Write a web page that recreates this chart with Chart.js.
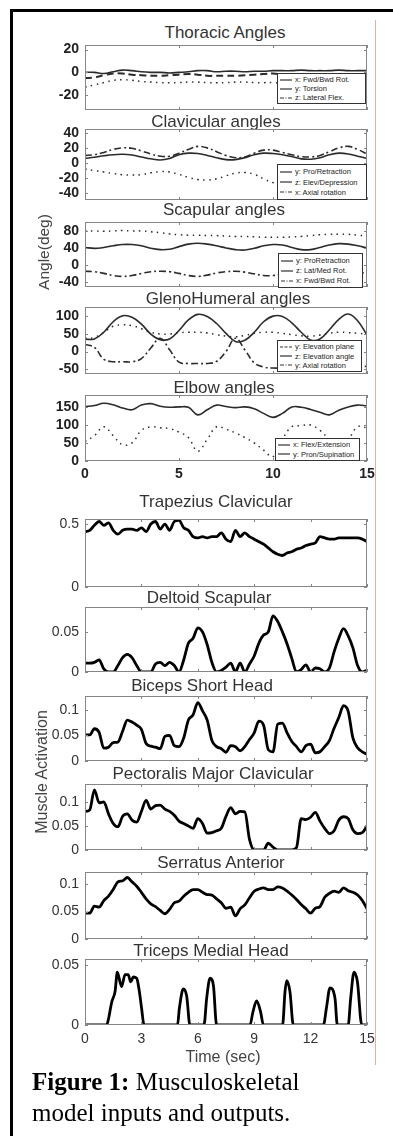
<!DOCTYPE html>
<html>
<head>
<meta charset="utf-8">
<script src="https://cdn.jsdelivr.net/npm/chart.js@4.4.0/dist/chart.umd.min.js"></script>
<style>
  body { margin: 0; background: #fff; }
  #page { position: relative; width: 393px; height: 1136px; overflow: hidden; font-family: "Liberation Sans", Arial, sans-serif; }
  .frame { position: absolute; left: 10px; top: 9px; width: 400px; height: 1140px; border-left: 3px solid #000; border-top: 3px solid #000; }
  .guide { position: absolute; left: 375px; top: 20px; width: 1px; height: 1045px; background: #f3a6a6; }
  .ttl { position: absolute; width: 300px; text-align: center; font-size: 17px; line-height: 20px; color: #333; white-space: nowrap; }
  .ylab { position: absolute; width: 200px; text-align: center; line-height: 20px; color: #444; white-space: nowrap; transform: rotate(-90deg); }
  .xlab { position: absolute; width: 200px; text-align: center; line-height: 20px; color: #444; font-size: 16px; }
  .leg { position: absolute; background: #fff; border: 1px solid #333; box-sizing: border-box; font-size: 7.5px; color: #222;
         display: flex; flex-direction: column; justify-content: space-evenly; padding-left: 2px; }
  .leg div { display: flex; align-items: center; white-space: nowrap; line-height: 7px; }
  .leg svg { margin-right: 3px; flex: none; }
  canvas { position: absolute; left: 0; }
  .cap { position: absolute; left: 32px; top: 1066px; font-family: "Liberation Serif", "Times New Roman", serif; font-size: 25px; line-height: 31px; color: #000; }
</style>
</head>
<body>
<div id="page">
  <div class="frame"></div>
  <div class="guide"></div>
</div>
<script>
// time bases (sec)
const T_ANG = [0,0.5,1,1.5,2,2.5,3,3.5,4,4.5,5,5.5,6,6.5,7,7.5,8,8.5,9,9.5,10,10.5,11,11.5,12,12.5,13,13.5,14,14.5,15];
const T_EMG = [0,0.25,0.5,0.75,1,1.25,1.5,1.75,2,2.25,2.5,2.75,3,3.25,3.5,3.75,4,4.25,4.5,4.75,5,5.25,5.5,5.75,6,6.25,6.5,6.75,7,
  7.25,7.5,7.75,8,8.25,8.5,8.75,9,9.25,9.5,9.75,10,10.25,10.5,10.75,11,11.25,11.5,11.75,12,12.25,12.5,12.75,13,13.25,13.5,13.75,14,
  14.25,14.5,14.75,15];

// joint angles (deg)
const THOR_X = [0,0,-1,0.5,2,1.5,0.5,0,0,-0.5,0,0.5,1.5,1.5,0.5,1,1,0.5,1,1,1.5,1.5,1.5,2,1.5,1.5,1.5,2,1.5,1.5,1.5];
const THOR_Y = [-5,-4.5,-2.5,-1,-1,-2,-2.5,-3,-3,-2.5,-2,-1.5,-2,-3,-3,-3,-3,-2.5,-2,-1.5,-1,-2,-3.5,-5,-5,-4,-3,-3,-3,-3,-3];
const THOR_Z = [-13,-11,-9,-7,-6.5,-7,-8,-8.5,-9,-9,-9,-8.5,-8.5,-9,-9,-9,-8.5,-8.5,-9,-9,-9,-9.5,-10,-10,-10,-10,-10,-10,-10,-10,-10];

const CLAV_Y = [6,7.5,9.5,11,11.5,10.5,8,5.5,4,6,11,13,12.5,10,7,4.5,4.5,7,11,13,12.5,11,8.5,5.5,5,7,11,13,12,9,6];
const CLAV_Z = [10,11,14,18,20,19.5,16,12,9,9,13,18,22,20,15,10,7,8,13,17,17,14,11,8.5,8,10,15,20,22,18,12];
const CLAV_X = [-8,-10,-12,-14,-15.5,-16,-15.5,-13,-11.5,-12,-15,-19,-22,-22.5,-21,-17,-13.5,-12.5,-15,-21,-26,-29,-31,-32,-32,-31,-30,-30,-31,-32,-32];

const SCAP_X = [80,80,79,80,81,80,80,78,76,73,71,70,70,69,69,68,67,67,66,65,65,65,66,67,69,71,72,72,72,70,68];
const SCAP_Y = [41,39,41,45,48,48,45,39,36,37,43,49,51,49,45,40,36,35,39,45,48,47,41,36,36,41,47,50,49,45,40];
const SCAP_Z = [-15,-16,-20,-25,-27,-25,-20,-16,-15,-16,-20,-25,-27,-24,-19,-16,-15,-17,-21,-25,-25,-22,-18,-16,-16,-19,-23,-26,-25,-21,-17];

const GH_ELEV = [35,36,55,85,102,98,78,50,34,36,60,90,106,100,80,52,29,32,55,85,101,100,82,55,33,36,62,92,107,88,47];
const GH_PLANE = [38,40,55,72,76,74,65,55,50,50,54,55,55,53,48,44,42,46,52,55,55,52,48,45,44,47,52,55,54,52,50];
const GH_AXIAL = [20,12,-22,-29,-29,-29,-20,10,38,5,-30,-34,-34,-34,-28,0,38,5,-32,-44,-47,-47,-45,-20,30,5,-30,-42,-44,-44,-42];

const ELB_FLEX = [151,154,160,156,147,142,155,159,152,149,150,149,128,142,155,151,148,150,145,132,121,132,150,149,143,135,128,141,150,155,153];
const ELB_PRON = [54,70,95,70,45,50,85,95,92,90,80,65,27,60,95,88,78,65,50,30,12,60,95,98,100,85,60,40,60,95,92];

// muscle activations
const TRAP = [0.44,0.45,0.49,0.52,0.49, 0.51,0.45,0.42,0.45, 0.46,0.46,0.45,0.47, 0.44,0.50,0.52,0.46, 0.50,0.45,0.52,0.53,
  0.47,0.45,0.40,0.39, 0.40,0.39,0.40,0.40, 0.43,0.38,0.36,0.45, 0.40,0.43,0.40,0.38, 0.36,0.34,0.31,0.28,
  0.26,0.25,0.27,0.28, 0.30,0.31,0.33,0.34, 0.35,0.40,0.39,0.38, 0.38,0.39,0.39,0.39, 0.39,0.39,0.38,0.36];
const DELT = [0.011,0.011,0.012,0.015,0.004, 0,0,0.008,0.018, 0.022,0.018,0.008,0, 0,0,0.010,0.012, 0.008,0.012,0.008,0,
  0.015,0.036,0.042,0.055, 0.050,0.034,0.012,0, 0.002,0.006,0.011,0, 0.011,0,0.010,0.020, 0.036,0.046,0.050,0.070,
  0.063,0.050,0.035,0.017, 0,0.003,0.009,0, 0.005,0.004,0,0.005, 0.025,0.042,0.054,0.045, 0.030,0.008,0,0.002];
const BIC = [0.051,0.051,0.063,0.056,0.025, 0.027,0.036,0.037,0.058, 0.080,0.076,0.070,0.062, 0.034,0.029,0.027,0.024,
  0.048,0.050,0.030,0.028, 0.045,0.080,0.090,0.114, 0.098,0.080,0.040,0.028, 0.024,0.017,0.030,0.028, 0.020,0.028,0.042,0.055,
  0.078,0.070,0.022,0.018, 0.072,0.074,0.055,0.038, 0.028,0.018,0.030,0.033, 0.016,0.018,0.028,0.040, 0.064,0.085,0.108,0.097,
  0.045,0.026,0.018,0.013];
const PECT = [0.080,0.083,0.125,0.098,0.100, 0.075,0.055,0.048,0.070, 0.075,0.062,0.058,0.080, 0.103,0.085,0.092,0.093,
  0.085,0.080,0.072,0.060, 0.055,0.050,0.045,0.065, 0.055,0.035,0.036,0.040, 0.045,0.070,0.088,0.075, 0.080,0.079,0.022,0,
  0,0,0.014,0.006, 0,0,0,0, 0.005,0.065,0.063,0.068, 0.078,0.060,0.045,0.034, 0.040,0.062,0.069,0.065, 0.042,0.034,0.036,0.050];
const SERR = [0.047,0.047,0.060,0.058,0.070, 0.078,0.090,0.104,0.106, 0.112,0.104,0.096,0.085, 0.073,0.064,0.059,0.052,
  0.046,0.054,0.066,0.069, 0.078,0.085,0.090,0.090, 0.085,0.081,0.080,0.073, 0.066,0.056,0.058,0.042, 0.055,0.062,0.075,0.087,
  0.091,0.093,0.090,0.090, 0.095,0.093,0.087,0.080, 0.072,0.063,0.055,0.047, 0.056,0.059,0.076,0.083, 0.087,0.085,0.093,0.088,
  0.085,0.080,0.070,0.055];
const TRI_T = [0,1.15,1.25,1.42,1.6,1.72,1.86,1.95,2.13,2.3,2.43,2.57,2.75,2.89,3.01,3.14,
  4.92,5.02,5.23,5.41,5.58, 6.33,6.47,6.65,6.83,7.0, 8.78,8.92,9.13,9.34,9.49,
  10.51,10.64,10.73,10.9,11.08, 12.68,12.85,13.03,13.3,13.42, 14.0,14.13,14.31,14.49,14.72,15];
const TRI_V = [0,0,0.005,0.019,0.028,0.044,0.036,0.032,0.042,0.042,0.036,0.040,0.039,0.028,0.014,0,
  0,0.014,0.030,0.024,0, 0,0.022,0.039,0.033,0, 0,0.010,0.020,0.011,0,
  0,0.028,0.037,0.028,0, 0,0.015,0.031,0.022,0, 0,0.022,0.044,0.036,0,0];

// tick values
const X_TICKS_ANG = [0,5,10,15];
const X_TICKS_EMG = [0,3,6,9,12,15];
const Y_THOR = [-20,0,20];
const Y_CLAV = [-40,-20,0,20,40];
const Y_SCAP = [-40,0,40,80];
const Y_GH = [-50,0,50,100];
const Y_ELB = [0,50,100,150];
const Y_TRAP = [0,0.5];
const Y_DELT = [0,0.05];
const Y_TENTH = [0,0.05,0.1];
const Y_TRI = [0,0.05];

const page = document.getElementById('page');
const FONT = 'Liberation Sans';

const STY = {
  solid:   { borderDash: [], borderWidth: 1.6 },
  dash:    { borderDash: [7, 4], borderWidth: 2 },
  dashdot: { borderDash: [7, 3, 2, 3], borderWidth: 1.6 },
  dot:     { borderDash: [1.5, 4.5], borderWidth: 1.5 },
  emg:     { borderDash: [], borderWidth: 2.8 }
};

// MATLAB style box with inward ticks
const matlabBox = {
  id: 'matlabBox',
  afterDatasetsDraw(chart) {
    const { ctx, chartArea: a, scales } = chart;
    ctx.save();
    ctx.strokeStyle = '#858585';
    ctx.lineWidth = 1;
    ctx.strokeRect(Math.round(a.left) + 0.5, Math.round(a.top) + 0.5, Math.round(a.width) - 1, Math.round(a.height) - 1);
    ctx.beginPath();
    scales.x.ticks.forEach(t => {
      const px = Math.round(scales.x.getPixelForValue(t.value)) + 0.5;
      ctx.moveTo(px, a.bottom); ctx.lineTo(px, a.bottom - 3);
      ctx.moveTo(px, a.top); ctx.lineTo(px, a.top + 3);
    });
    scales.y.ticks.forEach(t => {
      const py = Math.round(scales.y.getPixelForValue(t.value)) + 0.5;
      ctx.moveTo(a.left, py); ctx.lineTo(a.left + 3, py);
      ctx.moveTo(a.right, py); ctx.lineTo(a.right - 3, py);
    });
    ctx.stroke();
    ctx.restore();
  }
};

function panel(o) {
  const padTop = 16;
  const xH = o.xLabels ? 26 : 18;
  const cv = document.createElement('canvas');
  cv.width = 393;
  cv.height = padTop + o.h + xH;
  cv.style.top = (o.top - padTop) + 'px';
  page.appendChild(cv);

  const tickFont = o.bold ? { family: FONT, size: 14, weight: 'bold' } : { family: FONT, size: 14 };
  const tickColor = o.bold ? '#222' : '#333';

  new Chart(cv, {
    type: 'line',
    data: {
      datasets: o.series.map(([t, v, style]) => ({
        data: t.map((x, i) => ({ x: x, y: v[i] })),
        borderColor: style === 'emg' ? '#000' : '#2b2b2b',
        ...STY[style],
        pointRadius: 0,
        fill: false,
        tension: 0.4,
        cubicInterpolationMode: style === 'emg' ? 'monotone' : 'default'
      }))
    },
    options: {
      responsive: false,
      animation: false,
      devicePixelRatio: 1,
      layout: { padding: { left: 0, right: 26, top: padTop, bottom: 0 } },
      plugins: { legend: { display: false }, tooltip: { enabled: false } },
      scales: {
        x: {
          type: 'linear', min: 0, max: 15,
          grid: { display: false, drawTicks: false },
          border: { display: false },
          ticks: { display: !!o.xLabels, font: tickFont, color: tickColor, padding: o.xPad || 5,
                   autoSkip: false, maxRotation: 0, callback: v => String(v) },
          afterBuildTicks: s => { s.ticks = o.xTicks.map(v => ({ value: v })); },
          afterFit: s => { s.height = xH; }
        },
        y: {
          min: o.min, max: o.max,
          grid: { display: false, drawTicks: false },
          border: { display: false },
          ticks: { font: tickFont, color: tickColor, padding: 6, autoSkip: false, callback: v => String(v) },
          afterBuildTicks: s => { s.ticks = o.yTicks.map(v => ({ value: v })); },
          afterFit: s => { s.width = 85; }
        }
      }
    },
    plugins: [matlabBox]
  });
}

function title(text, cx, cy) {
  const d = document.createElement('div');
  d.className = 'ttl';
  d.textContent = text;
  d.style.left = (cx - 150) + 'px';
  d.style.top = (cy - 10) + 'px';
  page.appendChild(d);
}

const DASH_SVG = { solid: '', dash: '3 1.5', dashdot: '4 1.5 1 1.5' };

function legend(box, entries) {
  const d = document.createElement('div');
  d.className = 'leg';
  Object.assign(d.style, { left: box[0] + 'px', top: box[1] + 'px', width: box[2] + 'px', height: box[3] + 'px' });
  entries.forEach(([style, label]) => {
    const row = document.createElement('div');
    row.innerHTML = '<svg width="12" height="4"><line x1="0" y1="2" x2="12" y2="2" stroke="#333" stroke-width="1.2" stroke-dasharray="' +
      DASH_SVG[style] + '"/></svg><span></span>';
    row.querySelector('span').textContent = label;
    d.appendChild(row);
  });
  page.appendChild(d);
}

function vlabel(text, cx, cy, size) {
  const d = document.createElement('div');
  d.className = 'ylab';
  d.textContent = text;
  d.style.fontSize = size + 'px';
  d.style.left = (cx - 100) + 'px';
  d.style.top = (cy - 10) + 'px';
  page.appendChild(d);
}

// ---- joint angle panels ----
title('Thoracic Angles', 225, 33);
panel({ top: 45, h: 65, min: -33, max: 24, yTicks: Y_THOR, xTicks: X_TICKS_ANG, bold: true,
  series: [[T_ANG, THOR_Z, 'dot'], [T_ANG, THOR_Y, 'dash'], [T_ANG, THOR_X, 'solid']] });
legend([277, 73, 89, 31], [['solid', 'x: Fwd/Bwd Rot.'], ['solid', 'y: Torsion'], ['dashdot', 'z: Lateral Flex.']]);

title('Clavicular angles', 216, 122);
panel({ top: 129, h: 71, min: -49, max: 45, yTicks: Y_CLAV, xTicks: X_TICKS_ANG, bold: true,
  series: [[T_ANG, CLAV_X, 'dot'], [T_ANG, CLAV_Z, 'dashdot'], [T_ANG, CLAV_Y, 'solid']] });
legend([277, 164, 90, 36], [['solid', 'y: Pro/Retraction'], ['solid', 'z: Elev/Depression'], ['dashdot', 'x: Axial rotation']]);

title('Scapular angles', 224, 210);
panel({ top: 222, h: 65, min: -52, max: 101, yTicks: Y_SCAP, xTicks: X_TICKS_ANG, bold: true,
  series: [[T_ANG, SCAP_X, 'dot'], [T_ANG, SCAP_Z, 'dashdot'], [T_ANG, SCAP_Y, 'solid']] });
legend([278, 253, 85, 35], [['solid', 'y: ProRetraction'], ['solid', 'z: Lat/Med Rot.'], ['dashdot', 'x: Fwd/Bwd Rot.']]);

title('GlenoHumeral angles', 228, 299);
panel({ top: 307, h: 67, min: -64, max: 127, yTicks: Y_GH, xTicks: X_TICKS_ANG, bold: true,
  series: [[T_ANG, GH_PLANE, 'dot'], [T_ANG, GH_AXIAL, 'dashdot'], [T_ANG, GH_ELEV, 'solid']] });
legend([277, 340, 85, 32], [['dash', 'y: Elevation plane'], ['solid', 'z: Elevation angle'], ['dashdot', 'y: Axial rotation']]);

title('Elbow angles', 224, 388);
panel({ top: 395, h: 66, min: 0, max: 183, yTicks: Y_ELB, xTicks: X_TICKS_ANG, bold: true, xLabels: true, xPad: 5,
  series: [[T_ANG, ELB_PRON, 'dot'], [T_ANG, ELB_FLEX, 'solid']] });
legend([275, 438, 85, 23], [['solid', 'x: Flex/Extension'], ['solid', 'y: Pron/Supination']]);

vlabel('Angle(deg)', 44, 252, 15.5);

// ---- muscle activation panels ----
title('Trapezius Clavicular', 216, 502);
panel({ top: 519, h: 68, min: 0, max: 0.54, yTicks: Y_TRAP, xTicks: X_TICKS_EMG, series: [[T_EMG, TRAP, 'emg']] });

title('Deltoid Scapular', 209, 598);
panel({ top: 607, h: 65, min: 0, max: 0.081, yTicks: Y_DELT, xTicks: X_TICKS_EMG, series: [[T_EMG, DELT, 'emg']] });

title('Biceps Short Head', 202, 686);
panel({ top: 696, h: 65, min: 0, max: 0.127, yTicks: Y_TENTH, xTicks: X_TICKS_EMG, series: [[T_EMG, BIC, 'emg']] });

title('Pectoralis Major Clavicular', 213, 774);
panel({ top: 784, h: 66, min: 0, max: 0.137, yTicks: Y_TENTH, xTicks: X_TICKS_EMG, series: [[T_EMG, PECT, 'emg']] });

title('Serratus Anterior', 221, 863);
panel({ top: 872, h: 67, min: 0, max: 0.122, yTicks: Y_TENTH, xTicks: X_TICKS_EMG, series: [[T_EMG, SERR, 'emg']] });

title('Triceps Medial Head', 211, 951);
panel({ top: 959, h: 66, min: 0, max: 0.055, yTicks: Y_TRI, xTicks: X_TICKS_EMG, xLabels: true, xPad: 6,
  series: [[TRI_T, TRI_V, 'emg']] });

vlabel('Muscle Activation', 42, 772, 16);

const xl = document.createElement('div');
xl.className = 'xlab';
xl.textContent = 'Time (sec)';
xl.style.left = (223 - 100) + 'px';
xl.style.top = (1057 - 10) + 'px';
page.appendChild(xl);

const cap = document.createElement('div');
cap.className = 'cap';
cap.innerHTML = '<b>Figure 1:</b> Musculoskeletal<br>model inputs and outputs.';
page.appendChild(cap);
</script>
</body>
</html>
